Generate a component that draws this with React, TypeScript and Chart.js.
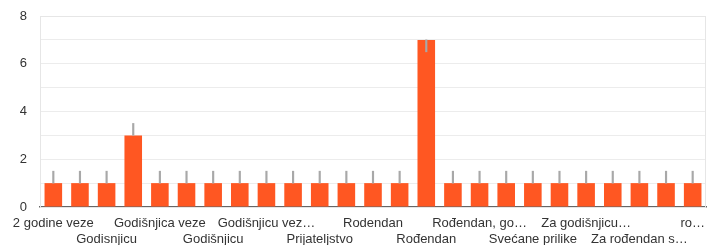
import React, { useEffect, useRef } from "react";
import { Chart, registerables } from "chart.js";

Chart.register(...registerables);

const categories: string[] = [
  "2 godine veze",
  "Godisnjica",
  "Godisnjicu",
  "Godišnjica",
  "Godišnjica veze",
  "Godišnjica braka",
  "Godišnjicu",
  "Godišnjicu braka",
  "Godišnjicu vez…",
  "Ljubav",
  "Prijateljstvo",
  "Proslava",
  "Rodendan",
  "Rodjendan",
  "Rođendan",
  "Rođendan i godišnjica",
  "Rođendan, go…",
  "Sve prilike",
  "Svećane prilike",
  "Valentinovo",
  "Za godišnjicu…",
  "Za rođendan",
  "Za rođendan s…",
  "rodjendan",
  "ro…",
];

const counts: number[] = [1, 1, 1, 3, 1, 1, 1, 1, 1, 1, 1, 1, 1, 1, 7, 1, 1, 1, 1, 1, 1, 1, 1, 1, 1];

const whiskerLow: number[] = [1, 1, 1, 3, 1, 1, 1, 1, 1, 1, 1, 1, 1, 1, 6.5, 1, 1, 1, 1, 1, 1, 1, 1, 1, 1];
const whiskerHigh: number[] = [1.5, 1.5, 1.5, 3.5, 1.5, 1.5, 1.5, 1.5, 1.5, 1.5, 1.5, 1.5, 1.5, 1.5, 7, 1.5, 1.5, 1.5, 1.5, 1.5, 1.5, 1.5, 1.5, 1.5, 1.5];

const yTicks: number[] = [0, 2, 4, 6, 8];

const FONT = "'Liberation Sans', Arial, Helvetica, sans-serif";

const frameBox = {
  id: "frameBox",
  beforeDatasetsDraw(chart: any) {
    const { ctx, chartArea } = chart;
    ctx.save();
    ctx.strokeStyle = "#e6e6e6";
    ctx.lineWidth = 1;
    ctx.strokeRect(
      Math.round(chartArea.left) + 0.5,
      Math.round(chartArea.top) + 0.5,
      Math.round(chartArea.right - chartArea.left) - 1,
      Math.round(chartArea.bottom - chartArea.top)
    );
    ctx.restore();
  },
};

export default function App() {
  const ref = useRef<HTMLCanvasElement | null>(null);

  useEffect(() => {
    if (!ref.current) return;
    const chart = new Chart(ref.current, {
      type: "bar",
      data: {
        labels: categories,
        datasets: [
          {
            label: "whisker",
            data: whiskerLow.map((lo, i) => [lo, whiskerHigh[i]]) as any,
            backgroundColor: "#a8a8a8",
            barThickness: 1.5,
            grouped: false,
            order: 0,
          },
          {
            label: "count",
            data: counts,
            backgroundColor: "#ff5722",
            borderWidth: 0,
            barPercentage: 0.66,
            categoryPercentage: 1,
            grouped: false,
            order: 1,
          },
        ],
      },
      options: {
        animation: false,
        responsive: true,
        maintainAspectRatio: false,
        layout: { padding: { top: 16, right: 12, left: 0, bottom: 0 } },
        plugins: {
          legend: { display: false },
          tooltip: { enabled: false },
        },
        scales: {
          x: {
            grid: { display: false, drawTicks: false },
            border: { display: true, color: "#666666", width: 1.5 },
            ticks: {
              autoSkip: false,
              maxRotation: 0,
              minRotation: 0,
              padding: 8,
              color: "#333333",
              font: { family: FONT, size: 13, lineHeight: 1.25 },
              callback: (_v: any, i: number) => {
                if (i % 2 === 1) return "";
                const label = categories[i];
                return i % 4 === 0 ? label : ["", label];
              },
            },
            afterFit: (scale: any) => {
              scale.height = 38;
            },
          },
          y: {
            min: 0,
            max: 8,
            grid: { color: "#ececec", lineWidth: 1, drawTicks: false },
            border: { display: false },
            ticks: {
              stepSize: 1,
              padding: 13,
              color: "#333333",
              font: { family: FONT, size: 13 },
              callback: (v: any) => (yTicks.includes(Number(v)) ? String(v) : ""),
            },
            afterFit: (scale: any) => {
              scale.width = 40;
              scale.paddingTop = 2;
              scale.paddingBottom = 2;
            },
          },
        },
      },
      plugins: [frameBox],
    });
    return () => chart.destroy();
  }, []);

  return (
    <div style={{ position: "fixed", left: 0, top: 0, width: 718, height: 245, background: "#fff" }}>
      <canvas ref={ref} />
    </div>
  );
}
